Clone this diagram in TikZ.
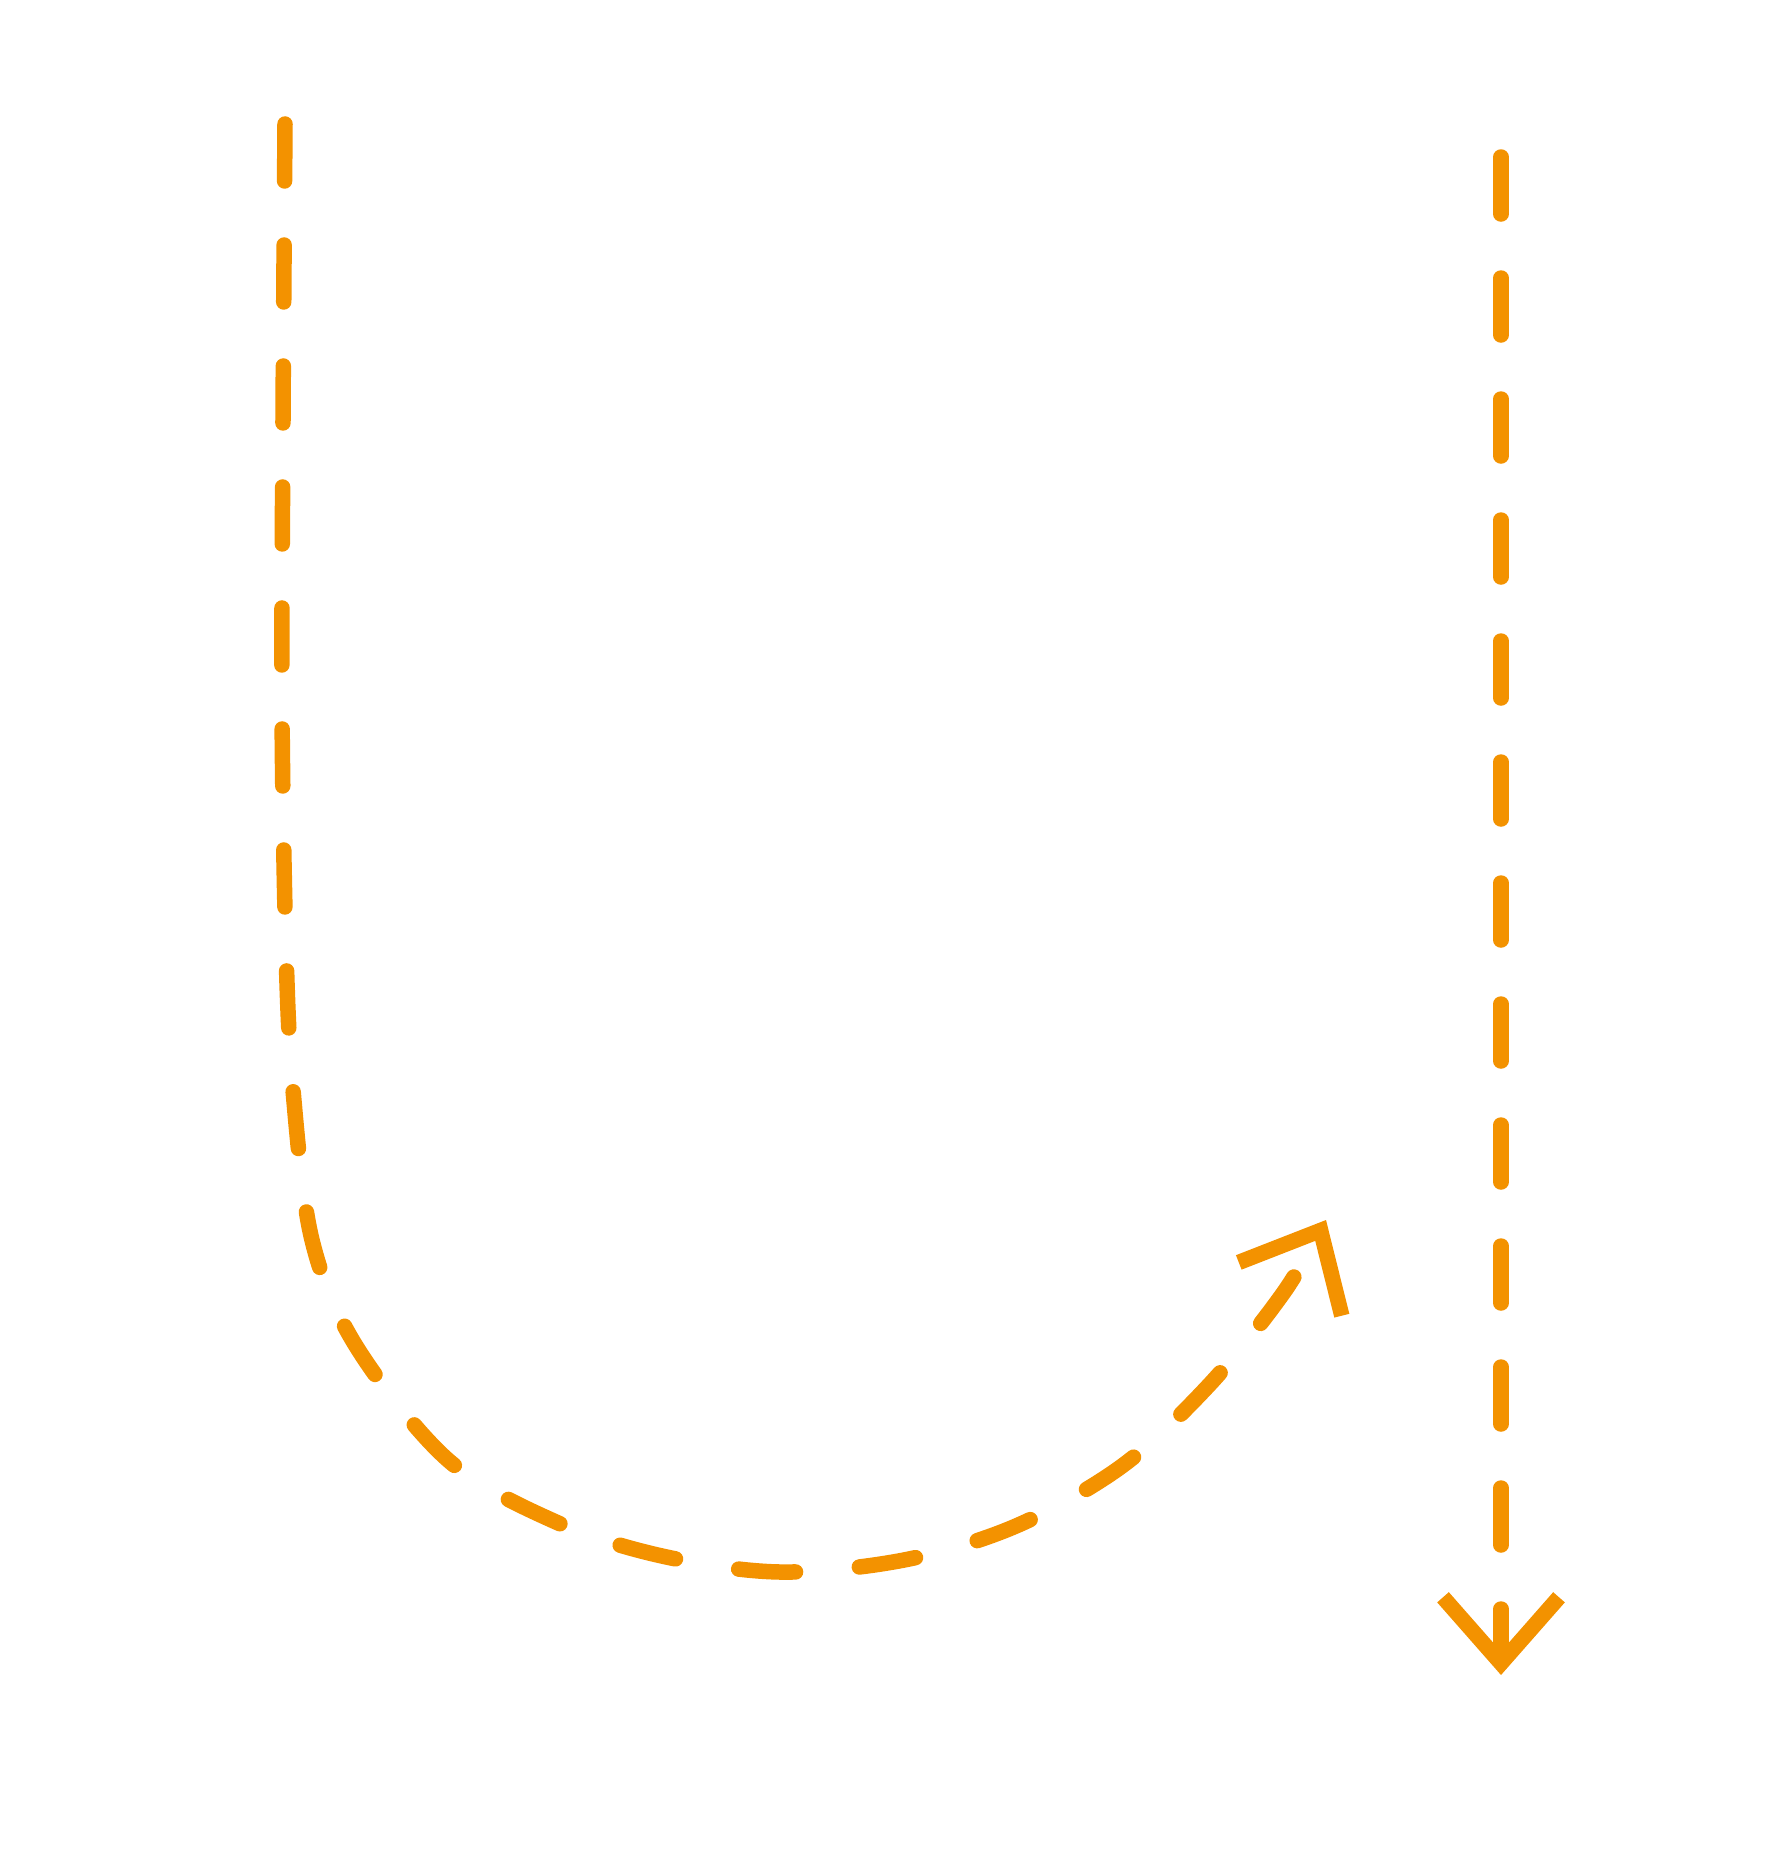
\documentclass[tikz,border=0pt]{standalone}
\usepackage{tikz}
\usetikzlibrary{positioning,arrows.meta}
\definecolor{flowOrange}{RGB}{243,146,0}

\begin{document}
\begin{tikzpicture}[
        x=1pt, y=-1pt,
        flow/.style={draw=flowOrange, line width=15.5pt, line cap=round,
            dash pattern=on 57pt off 64pt,
            -{Straight Barb[sharp, length=66pt, width=116pt]}}
    ]
    \useasboundingbox (0,0) rectangle (1791,1849);

    % Ends
    \coordinate (loopStart) at (285,124);
    \coordinate (loopEnd) at (1326,1220);
    \coordinate (downStart) at (1501,157);
    \coordinate (downEnd) at (1501,1675);

    % Arrows
    \draw[flow] plot[smooth, tension=0.55] coordinates {(285,124) (283,420) (282,707) (286,950) (293,1090) (312,1240) (356,1346) (448,1460) (556,1522) (662,1556) (780,1572) (904,1560) (1016,1526) (1122,1466) (1210,1384) (1284,1292) (1326,1220)};
    \draw[flow] (downStart) -- (downEnd);

\end{tikzpicture}
\end{document}
